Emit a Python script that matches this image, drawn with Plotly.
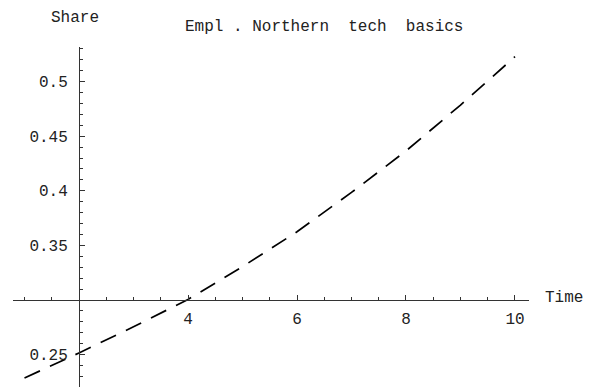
import plotly.graph_objects as go

# Employment share of northern tech basics over time
time = [1, 2, 3, 4, 5, 6, 7, 8, 9, 10]
share = [0.2286, 0.2515, 0.2755, 0.3005, 0.3305, 0.3625, 0.3985, 0.4365, 0.4785, 0.5228]

x_ticks = [2, 4, 6, 8, 10]
x_labels = ["", "4", "6", "8", "10"]
y_ticks = [0.25, 0.3, 0.35, 0.4, 0.45, 0.5]
y_labels = ["0.25", "", "0.35", "0.4", "0.45", "0.5"]

# axis crossing point (origin of the axes)
x_cross, y_cross = 2, 0.3

W, H = 595, 387
x_dom = [13 / W, 529 / W]
x_rng = [0.789, 10.257]
y_dom = [0.0, (H - 47) / H]
y_rng = [0.22033, 0.53168]

def frac(v, rng, dom):
    return dom[0] + (v - rng[0]) / (rng[1] - rng[0]) * (dom[1] - dom[0])

mono = "Liberation Mono"
fig = go.Figure()
fig.add_trace(go.Scatter(
    x=time, y=share, mode="lines",
    line=dict(color="black", width=1.7, dash="17px,11px"),
    showlegend=False, hoverinfo="skip",
))

fig.update_layout(
    width=W, height=H,
    margin=dict(l=0, r=0, t=0, b=0),
    paper_bgcolor="white", plot_bgcolor="white",
    font=dict(family=mono, size=16, color="#222"),
    xaxis=dict(
        domain=x_dom, range=x_rng, anchor="free",
        position=frac(y_cross, y_rng, y_dom),
        showgrid=False, zeroline=False, showline=True,
        linecolor="#333", linewidth=1,
        tickmode="array", tickvals=x_ticks, ticktext=x_labels,
        ticks="inside", ticklen=5, tickcolor="#333",
        ticklabelstandoff=4,
        minor=dict(ticks="inside", dtick=0.5, tick0=0, ticklen=3, tickcolor="#333"),
        automargin=False,
    ),
    yaxis=dict(
        domain=y_dom, range=y_rng, anchor="free",
        position=frac(x_cross, x_rng, x_dom),
        showgrid=False, zeroline=False, showline=True,
        linecolor="#333", linewidth=1,
        tickmode="array", tickvals=y_ticks, ticktext=y_labels,
        ticks="inside", ticklen=5, tickcolor="#333",
        ticklabelstandoff=8,
        minor=dict(ticks="inside", dtick=0.01, tick0=0, ticklen=3, tickcolor="#333"),
        automargin=False,
    ),
    annotations=[
        dict(text="Empl . Northern  tech  basics", x=324 / W, y=1 - 27 / H,
             xref="paper", yref="paper", showarrow=False,
             xanchor="center", yanchor="middle", font=dict(family=mono, size=16)),
        dict(text="Share", x=75 / W, y=1 - 18 / H,
             xref="paper", yref="paper", showarrow=False,
             xanchor="center", yanchor="middle", font=dict(family=mono, size=16)),
        dict(text="Time", x=564 / W, y=1 - 298 / H,
             xref="paper", yref="paper", showarrow=False,
             xanchor="center", yanchor="middle", font=dict(family=mono, size=16)),
    ],
)

fig.write_html("out.html")
